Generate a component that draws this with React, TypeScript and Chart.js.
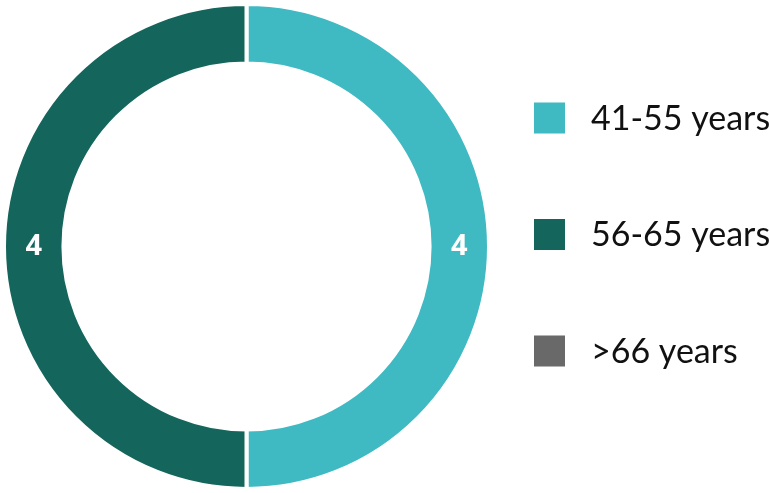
import React, { useEffect, useRef } from "react";
import { Chart, registerables } from "chart.js";

Chart.register(...registerables);

const categories = ["41-55 years", "56-65 years", ">66 years"];
const values = [4, 4, 0];
const colors = ["#3fb9c2", "#14655b", "#696969"];

const legendPlugin = {
  id: "sideLegend",
  afterDraw(chart: any) {
    const { ctx } = chart;
    const ds = chart.data.datasets[0];
    const labels = chart.data.labels as string[];
    const boxX = 534;
    const box = 31;
    const textX = 591;
    const firstY = 118;
    const step = 116.5;
    ctx.save();
    ctx.font = "34px Lato";
    ctx.textBaseline = "middle";
    ctx.textAlign = "left";
    labels.forEach((lab, i) => {
      const cy = firstY + i * step;
      ctx.fillStyle = ds.backgroundColor[i];
      ctx.fillRect(boxX, cy - box / 2, box, box);
      ctx.fillStyle = "#111111";
      ctx.fillText(lab, textX, cy + 1);
    });
    ctx.restore();
  },
};

const valueLabelPlugin = {
  id: "valueLabels",
  afterDatasetsDraw(chart: any) {
    const { ctx } = chart;
    const meta = chart.getDatasetMeta(0);
    const data = chart.data.datasets[0].data as number[];
    ctx.save();
    ctx.font = "bold 29px 'Open Sans'";
    ctx.fillStyle = "#ffffff";
    ctx.textAlign = "center";
    ctx.textBaseline = "middle";
    meta.data.forEach((arc: any, i: number) => {
      if (!data[i]) return;
      const p = arc.tooltipPosition();
      ctx.fillText(String(data[i]), p.x, p.y);
    });
    ctx.restore();
  },
};

export default function App() {
  const ref = useRef<HTMLCanvasElement>(null);
  useEffect(() => {
    if (!ref.current) return;
    const chart = new Chart(ref.current, {
      type: "doughnut",
      data: {
        labels: categories,
        datasets: [
          {
            data: values,
            backgroundColor: colors,
            borderColor: "#ffffff",
            borderWidth: 4,
            hoverOffset: 0,
          },
        ],
      },
      options: {
        responsive: false,
        animation: false,
        cutout: "75.5%",
        layout: { padding: { left: 2, top: 2, bottom: 2, right: 278 } },
        plugins: {
          legend: { display: false },
          tooltip: { enabled: false },
        },
      },
      plugins: [valueLabelPlugin, legendPlugin],
    });
    return () => chart.destroy();
  }, []);
  return (
    <div style={{ position: "absolute", left: 0, top: 0, width: 769, height: 493, background: "#fff" }}>
      <canvas ref={ref} width={769} height={493} style={{ width: 769, height: 493, display: "block" }} />
    </div>
  );
}
